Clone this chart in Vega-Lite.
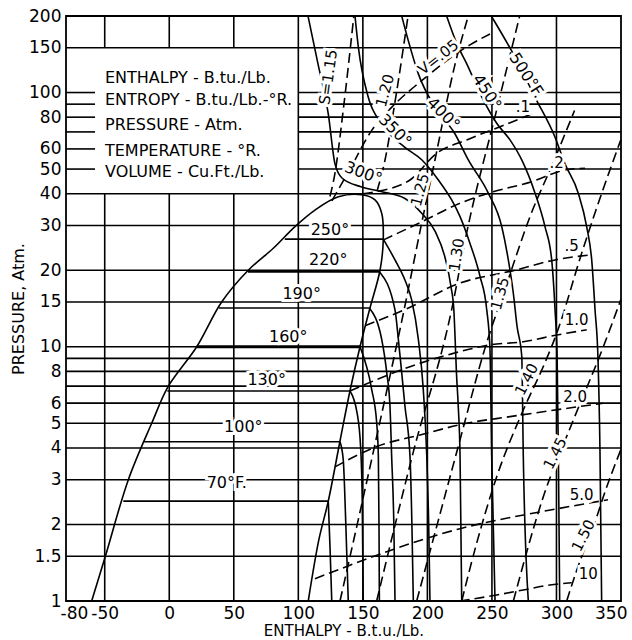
{
"$schema":"https://vega.github.io/schema/vega-lite/v6.json",
"width":555,"height":585,
"autosize":{"type":"none"},
"padding":{"left":66,"top":16,"right":11,"bottom":39},
"background":"white",
"config":{"font":"DejaVu Sans","view":{"stroke":"black","strokeWidth":1.8},
"axis":{"grid":false,"domain":false,"ticks":false,"tickSize":0,"labelColor":"black","titleColor":"black","titleFontWeight":"normal","labelOverlap":false}},
"datasets":{
"hgrid":[
{"p":1.5,"h":-80,"h2":350},{"p":2,"h":-80,"h2":350},{"p":3,"h":-80,"h2":350},{"p":4,"h":-80,"h2":350},{"p":5,"h":-80,"h2":350},{"p":6,"h":-80,"h2":350},{"p":7,"h":-80,"h2":350},{"p":8,"h":-80,"h2":350},{"p":9,"h":-80,"h2":350},{"p":10,"h":-80,"h2":350},{"p":15,"h":-80,"h2":350},{"p":20,"h":-80,"h2":350},{"p":30,"h":-80,"h2":350},{"p":40,"h":-80,"h2":350},
{"p":50,"h":-80,"h2":-57.5},{"p":50,"h":100,"h2":350},{"p":60,"h":-80,"h2":-57.5},{"p":60,"h":100,"h2":350},{"p":70,"h":-80,"h2":-57.5},{"p":70,"h":100,"h2":350},{"p":80,"h":-80,"h2":-57.5},{"p":80,"h":100,"h2":350},{"p":90,"h":-80,"h2":-57.5},{"p":90,"h":100,"h2":350},{"p":100,"h":-80,"h2":-57.5},{"p":100,"h":100,"h2":350},
{"p":150,"h":-80,"h2":350}],
"vgrid":[
{"h":-50,"p":1,"p2":40},{"h":-50,"p":150,"p2":200},{"h":0,"p":1,"p2":40},{"h":0,"p":150,"p2":200},{"h":50,"p":1,"p2":40},{"h":50,"p":150,"p2":200},
{"h":100,"p":1,"p2":200},{"h":150,"p":1,"p2":200},{"h":200,"p":1,"p2":200},{"h":250,"p":1,"p2":200},{"h":300,"p":1,"p2":200}],
"flat":[
{"t":70,"h":-35.6,"h2":123.2,"p":2.47},{"t":100,"h":-19.5,"h2":132.3,"p":4.23},{"t":130,"h":-1.5,"h2":140,"p":6.7},{"t":160,"h":21.3,"h2":147.8,"p":10},{"t":190,"h":38.5,"h2":155,"p":14.2},{"t":220,"h":61,"h2":163,"p":19.7},{"t":250,"h":89.5,"h2":165.8,"p":26.5}],
"dome":[
{"o":1,"h":-60.1,"p":1},{"o":2,"h":-49.5,"p":1.5},{"o":3,"h":-31.7,"p":3},{"o":4,"h":-13.6,"p":5},{"o":5,"h":-0.7,"p":7},{"o":6,"h":21.3,"p":10},{"o":7,"h":40.6,"p":15},{"o":8,"h":61.2,"p":20},{"o":9,"h":80.6,"p":24.4},{"o":10,"h":97.4,"p":29.7},{"o":11,"h":112.9,"p":34.5},{"o":12,"h":131,"p":38.9},{"o":13,"h":149.1,"p":39.6},{"o":14,"h":159.4,"p":37.8},{"o":15,"h":164.6,"p":33.5},{"o":16,"h":165.8,"p":26.3},{"o":17,"h":163.3,"p":20},{"o":18,"h":155.5,"p":14.2},{"o":19,"h":147.8,"p":10},{"o":20,"h":140,"p":6.7},{"o":21,"h":132.3,"p":4.26},{"o":22,"h":123.2,"p":2.47},{"o":23,"h":116,"p":1.75},{"o":24,"h":107.7,"p":1}],
"iso":[
{"c":"T70","o":1,"h":123.2,"p":2.47},{"c":"T70","o":2,"h":124.6,"p":1.6},{"c":"T70","o":3,"h":125.9,"p":1},
{"c":"T100","o":1,"h":132.3,"p":4.23},{"c":"T100","o":2,"h":134.8,"p":3.6},{"c":"T100","o":3,"h":136.8,"p":2},{"c":"T100","o":4,"h":138.7,"p":1},
{"c":"T130","o":1,"h":140,"p":6.7},{"c":"T130","o":2,"h":145.5,"p":5.5},{"c":"T130","o":3,"h":148.3,"p":4},{"c":"T130","o":4,"h":149.5,"p":2.5},{"c":"T130","o":5,"h":150.3,"p":1},
{"c":"T160","o":1,"h":147.8,"p":10},{"c":"T160","o":2,"h":156.8,"p":6.82},{"c":"T160","o":3,"h":160.7,"p":5.03},{"c":"T160","o":4,"h":162,"p":3.72},{"c":"T160","o":5,"h":162.5,"p":2},{"c":"T160","o":6,"h":162.8,"p":1},
{"c":"T190","o":1,"h":155,"p":14.2},{"c":"T190","o":2,"h":164.6,"p":10.7},{"c":"T190","o":3,"h":168.5,"p":7.91},{"c":"T190","o":4,"h":171,"p":5.85},{"c":"T190","o":5,"h":172.3,"p":3.72},{"c":"T190","o":6,"h":174,"p":2},{"c":"T190","o":7,"h":174.9,"p":1},
{"c":"T220","o":1,"h":163,"p":19.7},{"c":"T220","o":2,"h":174.9,"p":13.96},{"c":"T220","o":3,"h":177.5,"p":10.7},{"c":"T220","o":4,"h":180.1,"p":7.91},{"c":"T220","o":5,"h":182.6,"p":5.85},{"c":"T220","o":6,"h":186.5,"p":3.72},{"c":"T220","o":7,"h":188,"p":2},{"c":"T220","o":8,"h":189.1,"p":1},
{"c":"T250","o":1,"h":165.8,"p":26.5},{"c":"T250","o":2,"h":174.9,"p":21.96},{"c":"T250","o":3,"h":182.6,"p":18.3},{"c":"T250","o":4,"h":187.8,"p":15.3},{"c":"T250","o":5,"h":193,"p":10.7},{"c":"T250","o":6,"h":196.8,"p":6.8},{"c":"T250","o":7,"h":199.5,"p":3.72},{"c":"T250","o":8,"h":201,"p":2},{"c":"T250","o":9,"h":202,"p":1},
{"c":"T300","o":1,"h":107.5,"p":200},{"c":"T300","o":2,"h":115.2,"p":130},{"c":"T300","o":3,"h":123.2,"p":82.4},{"c":"T300","o":4,"h":128.4,"p":52.4},{"c":"T300","o":5,"h":134,"p":46},{"c":"T300","o":6,"h":148.5,"p":42.6},{"c":"T300","o":7,"h":164,"p":40.8},{"c":"T300","o":8,"h":182.6,"p":38.3},{"c":"T300","o":9,"h":195.6,"p":33.5},{"c":"T300","o":10,"h":205.9,"p":28.5},{"c":"T300","o":11,"h":213.6,"p":22.5},{"c":"T300","o":12,"h":218.3,"p":17.2},{"c":"T300","o":13,"h":220.5,"p":13.96},{"c":"T300","o":14,"h":221.5,"p":10.7},{"c":"T300","o":15,"h":222.5,"p":7.92},{"c":"T300","o":16,"h":223.9,"p":5.85},{"c":"T300","o":17,"h":225.3,"p":3.72},{"c":"T300","o":18,"h":226.6,"p":1},
{"c":"T350","o":1,"h":143.9,"p":200},{"c":"T350","o":2,"h":146.5,"p":150.8},{"c":"T350","o":3,"h":154.2,"p":95.8},{"c":"T350","o":4,"h":164.6,"p":75.2},{"c":"T350","o":5,"h":182.6,"p":60.9},{"c":"T350","o":6,"h":195.6,"p":54.4},{"c":"T350","o":7,"h":208.5,"p":45.3},{"c":"T350","o":8,"h":218.8,"p":37.8},{"c":"T350","o":9,"h":225.3,"p":32.5},{"c":"T350","o":10,"h":233,"p":25.5},{"c":"T350","o":11,"h":240.8,"p":18.9},{"c":"T350","o":12,"h":246,"p":13.96},{"c":"T350","o":13,"h":248.5,"p":9.77},{"c":"T350","o":14,"h":249.8,"p":3.72},{"c":"T350","o":15,"h":252.4,"p":1},
{"c":"T400","o":1,"h":180.1,"p":200},{"c":"T400","o":2,"h":185.2,"p":160},{"c":"T400","o":3,"h":193,"p":118.4},{"c":"T400","o":4,"h":205.9,"p":87.5},{"c":"T400","o":5,"h":221.4,"p":68.7},{"c":"T400","o":6,"h":231.7,"p":54.3},{"c":"T400","o":7,"h":247.2,"p":40.2},{"c":"T400","o":8,"h":257.6,"p":29.7},{"c":"T400","o":9,"h":262.7,"p":21.96},{"c":"T400","o":10,"h":266.6,"p":16.2},{"c":"T400","o":11,"h":269.5,"p":12},{"c":"T400","o":12,"h":273.1,"p":9.2},{"c":"T400","o":13,"h":274.3,"p":3.72},{"c":"T400","o":14,"h":278.2,"p":1},
{"c":"T450","o":1,"h":214.9,"p":200},{"c":"T450","o":2,"h":222.7,"p":156},{"c":"T450","o":3,"h":230.4,"p":130},{"c":"T450","o":4,"h":243.3,"p":93.5},{"c":"T450","o":5,"h":253.7,"p":75.7},{"c":"T450","o":6,"h":264,"p":65.1},{"c":"T450","o":7,"h":273.1,"p":54.3},{"c":"T450","o":8,"h":283.4,"p":40.2},{"c":"T450","o":9,"h":291.1,"p":29.7},{"c":"T450","o":10,"h":296.3,"p":21.96},{"c":"T450","o":11,"h":298.9,"p":13.96},{"c":"T450","o":12,"h":300.5,"p":9.2},{"c":"T450","o":13,"h":301.5,"p":3.72},{"c":"T450","o":14,"h":302.5,"p":1},
{"c":"T500","o":1,"h":249.5,"p":200},{"c":"T500","o":2,"h":267.9,"p":137.7},{"c":"T500","o":3,"h":283.4,"p":95.8},{"c":"T500","o":4,"h":298.9,"p":66.7},{"c":"T500","o":5,"h":306.6,"p":52.4},{"c":"T500","o":6,"h":316.9,"p":40.2},{"c":"T500","o":7,"h":323.4,"p":29.7},{"c":"T500","o":8,"h":327.3,"p":21.96},{"c":"T500","o":9,"h":329.9,"p":13.96},{"c":"T500","o":10,"h":332.2,"p":8.88},{"c":"T500","o":11,"h":333.7,"p":3.93},{"c":"T500","o":12,"h":335,"p":1}],
"dash":[
{"c":"S115","o":1,"h":124.5,"p":39},{"c":"S115","o":2,"h":128.4,"p":48.2},{"c":"S115","o":3,"h":134.8,"p":85.4},{"c":"S115","o":4,"h":143,"p":200},
{"c":"S120","o":1,"h":161,"p":41},{"c":"S120","o":2,"h":167.2,"p":54.4},{"c":"S120","o":3,"h":174.9,"p":91.8},{"c":"S120","o":4,"h":185,"p":200},
{"c":"S125","o":1,"h":132.3,"p":1},{"c":"S125","o":2,"h":158.1,"p":3.86},{"c":"S125","o":3,"h":182.6,"p":14.5},{"c":"S125","o":4,"h":195.6,"p":30.7},{"c":"S125","o":5,"h":205.9,"p":54.4},{"c":"S125","o":6,"h":221.4,"p":129},{"c":"S125","o":7,"h":231.7,"p":200},
{"c":"S130","o":1,"h":160.7,"p":1},{"c":"S130","o":2,"h":189.1,"p":3.86},{"c":"S130","o":3,"h":218.8,"p":14},{"c":"S130","o":4,"h":230.4,"p":28},{"c":"S130","o":5,"h":253.7,"p":85.6},{"c":"S130","o":6,"h":271.5,"p":200},
{"c":"S135","o":1,"h":191.7,"p":1},{"c":"S135","o":2,"h":224,"p":4.07},{"c":"S135","o":3,"h":244.7,"p":9.9},{"c":"S135","o":4,"h":262,"p":18},{"c":"S135","o":5,"h":280,"p":33},{"c":"S135","o":6,"h":297.3,"p":52.8},{"c":"S135","o":7,"h":314,"p":85},
{"c":"S140","o":1,"h":226.6,"p":1},{"c":"S140","o":2,"h":238.2,"p":1.69},{"c":"S140","o":3,"h":253.7,"p":3.08},{"c":"S140","o":4,"h":274.3,"p":5.64},{"c":"S140","o":5,"h":289.8,"p":8.36},{"c":"S140","o":6,"h":300.2,"p":11.3},{"c":"S140","o":7,"h":319.5,"p":23.3},{"c":"S140","o":8,"h":335,"p":40.1},{"c":"S140","o":9,"h":349.8,"p":65},
{"c":"S145","o":1,"h":266.6,"p":1},{"c":"S145","o":2,"h":289.8,"p":2.57},{"c":"S145","o":3,"h":313.1,"p":5.15},{"c":"S145","o":4,"h":336.3,"p":10},{"c":"S145","o":5,"h":349.8,"p":15.3},
{"c":"S150","o":1,"h":307.9,"p":1},{"c":"S150","o":2,"h":315.7,"p":1.32},{"c":"S150","o":3,"h":331.2,"p":2.14},{"c":"S150","o":4,"h":336.3,"p":2.57},{"c":"S150","o":5,"h":349.8,"p":3.93},
{"c":"V05","o":1,"h":126,"p":37.5},{"c":"V05","o":2,"h":140,"p":50},{"c":"V05","o":3,"h":157.1,"p":71.3},{"c":"V05","o":4,"h":174.9,"p":90.2},{"c":"V05","o":5,"h":194.3,"p":110},{"c":"V05","o":6,"h":233,"p":154},{"c":"V05","o":7,"h":248.5,"p":170},
{"c":"V1","o":1,"h":150,"p":40},{"c":"V1","o":2,"h":158.1,"p":40.6},{"c":"V1","o":3,"h":186.5,"p":45.3},{"c":"V1","o":4,"h":207.2,"p":57.7},{"c":"V1","o":5,"h":230.4,"p":65.1},{"c":"V1","o":6,"h":256.3,"p":73.4},{"c":"V1","o":7,"h":282.1,"p":82.9},
{"c":"V2","o":1,"h":165.8,"p":26.3},{"c":"V2","o":2,"h":195.6,"p":31},{"c":"V2","o":3,"h":225.3,"p":36.7},{"c":"V2","o":4,"h":247.2,"p":40.2},{"c":"V2","o":5,"h":280.8,"p":44.6},{"c":"V2","o":6,"h":306.6,"p":49.6},{"c":"V2","o":7,"h":322.1,"p":50.4},
{"c":"V5","o":1,"h":151.7,"p":12.1},{"c":"V5","o":2,"h":182.6,"p":14},{"c":"V5","o":3,"h":225.3,"p":17.8},{"c":"V5","o":4,"h":267.9,"p":20},{"c":"V5","o":5,"h":298.9,"p":21.96},{"c":"V5","o":6,"h":327.3,"p":23},
{"c":"V10","o":1,"h":140,"p":6.7},{"c":"V10","o":2,"h":186.5,"p":8.35},{"c":"V10","o":3,"h":220.1,"p":9.42},{"c":"V10","o":4,"h":248.5,"p":10.17},{"c":"V10","o":5,"h":274.3,"p":10.47},{"c":"V10","o":6,"h":300.2,"p":11.12},{"c":"V10","o":7,"h":323.4,"p":11.65},
{"c":"V20","o":1,"h":128.4,"p":3.37},{"c":"V20","o":2,"h":160.7,"p":4.05},{"c":"V20","o":3,"h":194.3,"p":4.5},{"c":"V20","o":4,"h":230.4,"p":5},{"c":"V20","o":5,"h":264,"p":5.31},{"c":"V20","o":6,"h":336.3,"p":6},
{"c":"V50","o":1,"h":112.9,"p":1.224},{"c":"V50","o":2,"h":225.3,"p":1.925},{"c":"V50","o":3,"h":301.4,"p":2.31},{"c":"V50","o":4,"h":339.9,"p":2.5},
{"c":"V100","o":1,"h":225,"p":1},{"c":"V100","o":2,"h":253.7,"p":1.056},{"c":"V100","o":3,"h":274.3,"p":1.105},{"c":"V100","o":4,"h":295,"p":1.156},{"c":"V100","o":5,"h":311.8,"p":1.18}],
"lab":[
{"t":"70°F.","h":44.5,"p":2.9},{"t":"100°","h":57.4,"p":4.82},{"t":"130°","h":75.5,"p":7.4},{"t":"160°","h":92.2,"p":10.96},{"t":"190°","h":102.6,"p":16.2},{"t":"220°","h":123.2,"p":21.96},{"t":"250°","h":124.5,"p":28.8},
{"t":"300°","h":150.3,"p":48.2},{"t":"350°","h":174.9,"p":70.8},{"t":"400°","h":212.3,"p":82.4},{"t":"450°","h":246,"p":100.3},{"t":"500°F.","h":276.9,"p":116.5},
{"t":"S=1.15","h":123.2,"p":114.9},{"t":"1.20","h":167.2,"p":101.7},{"t":"1.25","h":194.3,"p":41.4},{"t":"1.30","h":222.7,"p":23},{"t":"1.35","h":256.3,"p":16.2},{"t":"1.40","h":276.9,"p":7.45},{"t":"1.45","h":298.9,"p":3.81},{"t":"1.50","h":320.8,"p":1.81},
{"t":"V=.05","h":208.5,"p":137.7},{"t":".1","h":274,"p":88},{"t":".2","h":300.2,"p":52.7},{"t":".5","h":311.8,"p":24.8},{"t":"1.0","h":315.7,"p":12.7},{"t":"2.0","h":314.4,"p":6.36},{"t":"5.0","h":319.5,"p":2.61},{"t":"10","h":324.7,"p":1.28}],
"legend":[
{"t":"ENTHALPY - B.tu./Lb.","h":-49.8,"p":114.2},{"t":"ENTROPY - B.tu./Lb.-°R.","h":-49.8,"p":93.5},{"t":"PRESSURE - Atm.","h":-49.8,"p":74.6},{"t":"TEMPERATURE - °R.","h":-49.8,"p":58.9},{"t":"VOLUME - Cu.Ft./Lb.","h":-49.8,"p":48.8}]
},
"encoding":{
"x":{"field":"h","type":"quantitative","scale":{"domain":[-80,350],"nice":false,"zero":false},
"axis":{"values":[-80,-50,0,50,100,150,200,250,300,350],"labelExpr":"datum.value < 0 ? '-' + format(-datum.value, 'd') : format(datum.value, 'd')","labelFontSize":17,"labelPadding":4,"labelFlush":true,"labelFlushOffset":6,"title":"ENTHALPY - B.t.u./Lb.","titleFontSize":15,"titlePadding":2}},
"y":{"field":"p","type":"quantitative","scale":{"type":"log","domain":[1,200],"nice":false},
"axis":{"values":[1,1.5,2,3,4,5,6,8,10,15,20,30,40,50,60,80,100,150,200],"format":"~g","labelFontSize":17,"labelPadding":5,"title":"PRESSURE, Atm.","titleFontSize":16,"titlePadding":2}}
},
"layer":[
{"data":{"name":"hgrid"},"mark":{"type":"rule","color":"black","strokeWidth":1.6},"encoding":{"x2":{"field":"h2"}}},
{"data":{"name":"vgrid"},"mark":{"type":"rule","color":"black","strokeWidth":1.6},"encoding":{"y2":{"field":"p2"}}},
{"data":{"name":"flat"},"transform":[{"filter":"datum.t != 160"}],"mark":{"type":"rule","color":"black","strokeWidth":1.6},"encoding":{"x2":{"field":"h2"}}},
{"data":{"name":"flat"},"transform":[{"filter":"datum.t == 160"}],"mark":{"type":"rule","color":"black","strokeWidth":3.2},"encoding":{"x2":{"field":"h2"}}},
{"data":{"name":"dome"},"mark":{"type":"line","color":"black","strokeWidth":1.6,"interpolate":"catmull-rom"},"encoding":{"order":{"field":"o","type":"quantitative"}}},
{"data":{"name":"iso"},"mark":{"type":"line","color":"black","strokeWidth":1.6,"interpolate":"monotone"},"encoding":{"detail":{"field":"c"},"order":{"field":"o","type":"quantitative"}}},
{"data":{"name":"dash"},"mark":{"type":"line","color":"black","strokeWidth":1.6,"strokeDash":[10,5],"interpolate":"monotone"},"encoding":{"detail":{"field":"c"},"order":{"field":"o","type":"quantitative"}}},
{"data":{"name":"lab"},"transform":[{"filter":{"field":"t","oneOf":["70°F.","100°","130°","160°","190°","220°","250°"]}}],"mark":{"type":"text","fontSize":16,"fill":"white","stroke":"white","strokeWidth":6},"encoding":{"text":{"field":"t"}}},
{"data":{"name":"lab"},"transform":[{"filter":{"field":"t","oneOf":["70°F.","100°","130°","160°","190°","220°","250°"]}}],"mark":{"type":"text","fontSize":16,"fill":"black"},"encoding":{"text":{"field":"t"}}},
{"data":{"name":"lab"},"transform":[{"filter":{"field":"t","oneOf":[".1",".2",".5","1.0","2.0","5.0","10"]}}],"mark":{"type":"text","fontSize":15,"fill":"white","stroke":"white","strokeWidth":6},"encoding":{"text":{"field":"t"}}},
{"data":{"name":"lab"},"transform":[{"filter":{"field":"t","oneOf":[".1",".2",".5","1.0","2.0","5.0","10"]}}],"mark":{"type":"text","fontSize":15,"fill":"black"},"encoding":{"text":{"field":"t"}}},
{"data":{"name":"lab"},"transform":[{"filter":{"field":"t","oneOf":["300°"]}}],"mark":{"type":"text","fontSize":16,"angle":20,"fill":"white","stroke":"white","strokeWidth":6},"encoding":{"text":{"field":"t"}}},
{"data":{"name":"lab"},"transform":[{"filter":{"field":"t","oneOf":["300°"]}}],"mark":{"type":"text","fontSize":16,"angle":20,"fill":"black"},"encoding":{"text":{"field":"t"}}},
{"data":{"name":"lab"},"transform":[{"filter":{"field":"t","oneOf":["350°","400°"]}}],"mark":{"type":"text","fontSize":16,"angle":45,"fill":"white","stroke":"white","strokeWidth":6},"encoding":{"text":{"field":"t"}}},
{"data":{"name":"lab"},"transform":[{"filter":{"field":"t","oneOf":["350°","400°"]}}],"mark":{"type":"text","fontSize":16,"angle":45,"fill":"black"},"encoding":{"text":{"field":"t"}}},
{"data":{"name":"lab"},"transform":[{"filter":{"field":"t","oneOf":["450°","500°F."]}}],"mark":{"type":"text","fontSize":16,"angle":57,"fill":"white","stroke":"white","strokeWidth":6},"encoding":{"text":{"field":"t"}}},
{"data":{"name":"lab"},"transform":[{"filter":{"field":"t","oneOf":["450°","500°F."]}}],"mark":{"type":"text","fontSize":16,"angle":57,"fill":"black"},"encoding":{"text":{"field":"t"}}},
{"data":{"name":"lab"},"transform":[{"filter":{"field":"t","oneOf":["V=.05"]}}],"mark":{"type":"text","fontSize":15,"angle":-38,"fill":"white","stroke":"white","strokeWidth":6},"encoding":{"text":{"field":"t"}}},
{"data":{"name":"lab"},"transform":[{"filter":{"field":"t","oneOf":["V=.05"]}}],"mark":{"type":"text","fontSize":15,"angle":-38,"fill":"black"},"encoding":{"text":{"field":"t"}}},
{"data":{"name":"lab"},"transform":[{"filter":{"field":"t","oneOf":["S=1.15","1.30"]}}],"mark":{"type":"text","fontSize":15,"angle":-82,"fill":"white","stroke":"white","strokeWidth":6},"encoding":{"text":{"field":"t"}}},
{"data":{"name":"lab"},"transform":[{"filter":{"field":"t","oneOf":["S=1.15","1.30"]}}],"mark":{"type":"text","fontSize":15,"angle":-82,"fill":"black"},"encoding":{"text":{"field":"t"}}},
{"data":{"name":"lab"},"transform":[{"filter":{"field":"t","oneOf":["1.20","1.25","1.35"]}}],"mark":{"type":"text","fontSize":15,"angle":-75,"fill":"white","stroke":"white","strokeWidth":6},"encoding":{"text":{"field":"t"}}},
{"data":{"name":"lab"},"transform":[{"filter":{"field":"t","oneOf":["1.20","1.25","1.35"]}}],"mark":{"type":"text","fontSize":15,"angle":-75,"fill":"black"},"encoding":{"text":{"field":"t"}}},
{"data":{"name":"lab"},"transform":[{"filter":{"field":"t","oneOf":["1.40","1.45","1.50"]}}],"mark":{"type":"text","fontSize":15,"angle":-63,"fill":"white","stroke":"white","strokeWidth":6},"encoding":{"text":{"field":"t"}}},
{"data":{"name":"lab"},"transform":[{"filter":{"field":"t","oneOf":["1.40","1.45","1.50"]}}],"mark":{"type":"text","fontSize":15,"angle":-63,"fill":"black"},"encoding":{"text":{"field":"t"}}},
{"data":{"name":"legend"},"mark":{"type":"text","align":"left","fontSize":16,"fill":"black"},"encoding":{"text":{"field":"t"}}}
]
}
